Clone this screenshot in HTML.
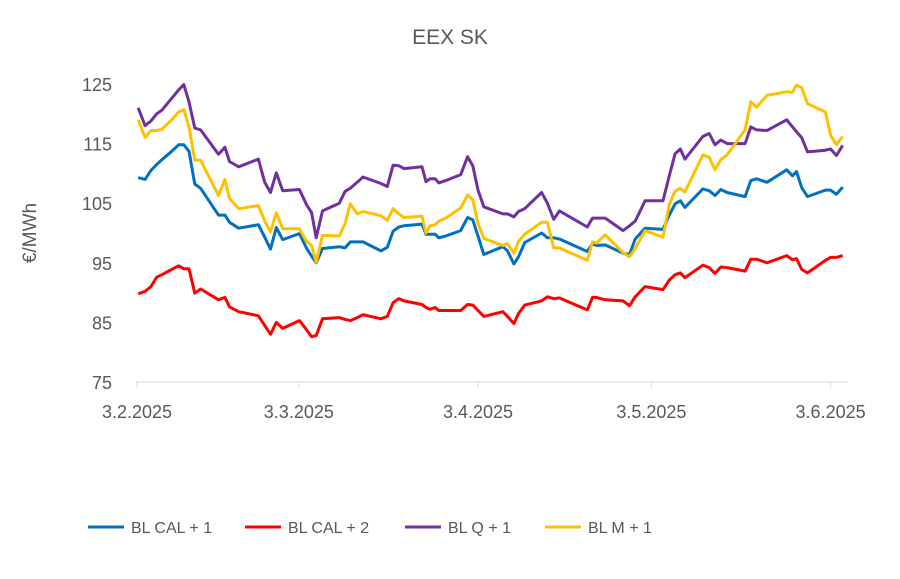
<!DOCTYPE html>
<html><head><meta charset="utf-8"><style>
body{margin:0;background:#fff;font-family:"Liberation Sans",sans-serif}
svg text{font-family:"Liberation Sans",sans-serif;fill:#595959}
</style></head><body>
<svg id="chart" width="900" height="574" viewBox="0 0 900 574" xmlns="http://www.w3.org/2000/svg">
<rect width="900" height="574" fill="#fff"/>
<text x="450" y="44" font-size="21" text-anchor="middle">EEX SK</text>
<text transform="translate(36,233) rotate(-90)" font-size="19" text-anchor="middle">€/MWh</text>
<g id="yticks"></g><g id="xticks"></g><g id="series"></g><g id="legend"></g>
</svg>
<script>
const days=[0.2,1.4,2.4,3.4,4.3,6.0,7.2,8.1,9.0,10.0,11.0,14.1,15.2,16.0,17.6,21.0,22.1,23.1,24.1,25.2,28.1,29.3,30.2,31.0,32.1,35.0,36.0,36.9,38.1,39.1,42.2,43.3,44.3,45.3,46.2,49.3,50.0,50.7,51.6,52.2,53.4,56.0,57.2,58.1,59.0,60.0,63.3,64.1,65.2,66.0,67.1,70.0,71.0,72.1,73.1,77.9,78.8,79.5,81.0,84.1,85.2,86.2,87.9,91.0,92.1,93.1,94.0,94.8,97.9,99.0,100.0,101.0,102.1,105.2,106.2,107.2,109.0,112.4,113.4,114.1,115.0,116.0,119.1,120.0,121.0,122.1];
const calOne=[109.3,109,110.5,111.5,112.3,113.7,114.8,114.8,113.7,108.2,107.5,103,103,101.8,100.8,101.4,99.3,97.3,100.9,98.9,99.9,97.5,96.1,95,97.4,97.7,97.5,98.5,98.5,98.5,97,97.6,100.3,101,101.2,101.5,99.8,99.8,99.8,99.2,99.5,100.4,102.6,102.2,99.5,96.4,97.7,97,94.8,96,98.4,100,99.2,99.2,99,96.9,98.2,97.9,98,96.6,96.4,99,100.8,100.6,103,104.9,105.4,104.3,107.4,107.1,106.3,107.3,106.8,106.1,108.8,109.1,108.5,110.6,109.6,110.3,107.6,106.1,107.2,107.2,106.5,107.7];
const calTwo=[89.8,90.2,91,92.6,93,93.9,94.5,94,94,89.9,90.6,88.8,89.2,87.6,86.8,86.1,84.5,83,85,84,85.3,83.8,82.6,82.8,85.6,85.8,85.5,85.3,85.8,86.3,85.6,86,88.3,89,88.6,88,87.5,87.2,87.5,87,87,87,88,87.9,87,86,86.8,86,84.8,86.5,87.9,88.6,89.3,89,89.1,87.1,89.2,89.2,88.8,88.6,87.8,89.3,91,90.5,92.1,93,93.3,92.5,94.6,94.2,93.2,94.3,94.2,93.6,95.6,95.6,95,96.2,95.5,95.7,93.9,93.3,95.4,95.9,95.9,96.2];
const qOne=[121,118,118.8,120,120.6,122.6,124,124.9,122,117.6,117.3,113.2,114.4,112,111.1,112.4,108.5,106.8,110.1,107.1,107.3,104.8,103.4,99.2,103.7,105,107,107.5,108.5,109.4,108.3,107.8,111.4,111.3,110.8,111.1,108.6,109.1,109.1,108.4,108.8,109.8,112.8,111.3,107.2,104.4,103.2,103.2,102.7,103.6,104.1,106.8,105,102.3,103.7,101,102.5,102.5,102.5,100.4,101.2,102,105.4,105.4,109.6,113.3,114.1,112.4,116.2,116.7,114.8,115.6,115,115,117.8,117.3,117.2,119,117.8,117,116,113.6,113.9,114.1,113,114.7];
const mOne=[119,116,117.2,117.2,117.4,119,120.3,120.7,117.8,112.2,112.2,106.3,109,105.8,104.1,104.6,102,100.2,103.4,100.7,100.7,98.6,97.9,95.1,99.6,99.5,101.6,104.9,103.2,103.6,102.9,102.1,104.1,103.2,102.6,102.8,100,101.2,101.4,102,102.5,104.2,106.4,105.6,101.6,99.1,97.9,98.2,96.6,98.6,99.8,101.8,101.8,97.5,97.5,95.4,98.5,98.3,99.7,96.7,96,97.4,100.4,99.3,104.8,107,107.5,106.9,113.1,112.7,110.6,112.3,113.1,117.3,122,121.1,123.1,123.7,123.6,124.8,124.4,121.7,120.3,116.4,114.8,116.2];
const yTicks=[75,85,95,105,115,125];
const xTickDays=[0,28,59,89,120];
const xTickLabels=["3.2.2025","3.3.2025","3.4.2025","3.5.2025","3.6.2025"];
const seriesNames=["BL CAL + 1","BL CAL + 2","BL Q + 1","BL M + 1"];
const seriesColors=["#0070C0","#FF0000","#7030A0","#FFC000"];
const NS="http://www.w3.org/2000/svg";
const X=d=>137+d*5.78, Y=v=>382-(v-75)*5.96;
function mk(t,a,p){const e=document.createElementNS(NS,t);for(const k in a)e.setAttribute(k,a[k]);p.appendChild(e);return e;}
const yg=document.getElementById('yticks');
yTicks.forEach(v=>{const t=mk('text',{x:112,y:Y(v)+7,'font-size':18,'text-anchor':'end'},yg);

t.textContent=v;});
const xg=document.getElementById('xticks');
const ax=mk('line',{x1:X(0)-1,x2:848,y1:382,y2:382,stroke:'#D9D9D9','stroke-width':1},xg);


xTickDays.forEach((d,i)=>{const tk=mk('line',{x1:X(d),x2:X(d),y1:382,y2:388,stroke:'#D9D9D9'},xg);


const t=mk('text',{x:X(d),y:418,'font-size':18,'text-anchor':'middle'},xg);

t.textContent=xTickLabels[i];});
const sg=document.getElementById('series');
[calOne,calTwo,qOne,mOne].forEach((arr,i)=>{
const pts=arr.map((v,j)=>X(days[j]).toFixed(1)+','+Y(v).toFixed(1)).join(' ');
const p=mk('polyline',{points:pts,fill:'none',stroke:seriesColors[i],'stroke-width':3,'stroke-linejoin':'round'},sg);

});
const lg=document.getElementById('legend');
const lx=[88,245,405,545];
seriesNames.forEach((n,i)=>{
const l=mk('line',{x1:lx[i],x2:lx[i]+36,y1:527,y2:527,stroke:seriesColors[i],'stroke-width':3},lg);


const t=mk('text',{x:lx[i]+43,y:533,'font-size':16},lg);

t.textContent=n;});
</script>
</body></html>
